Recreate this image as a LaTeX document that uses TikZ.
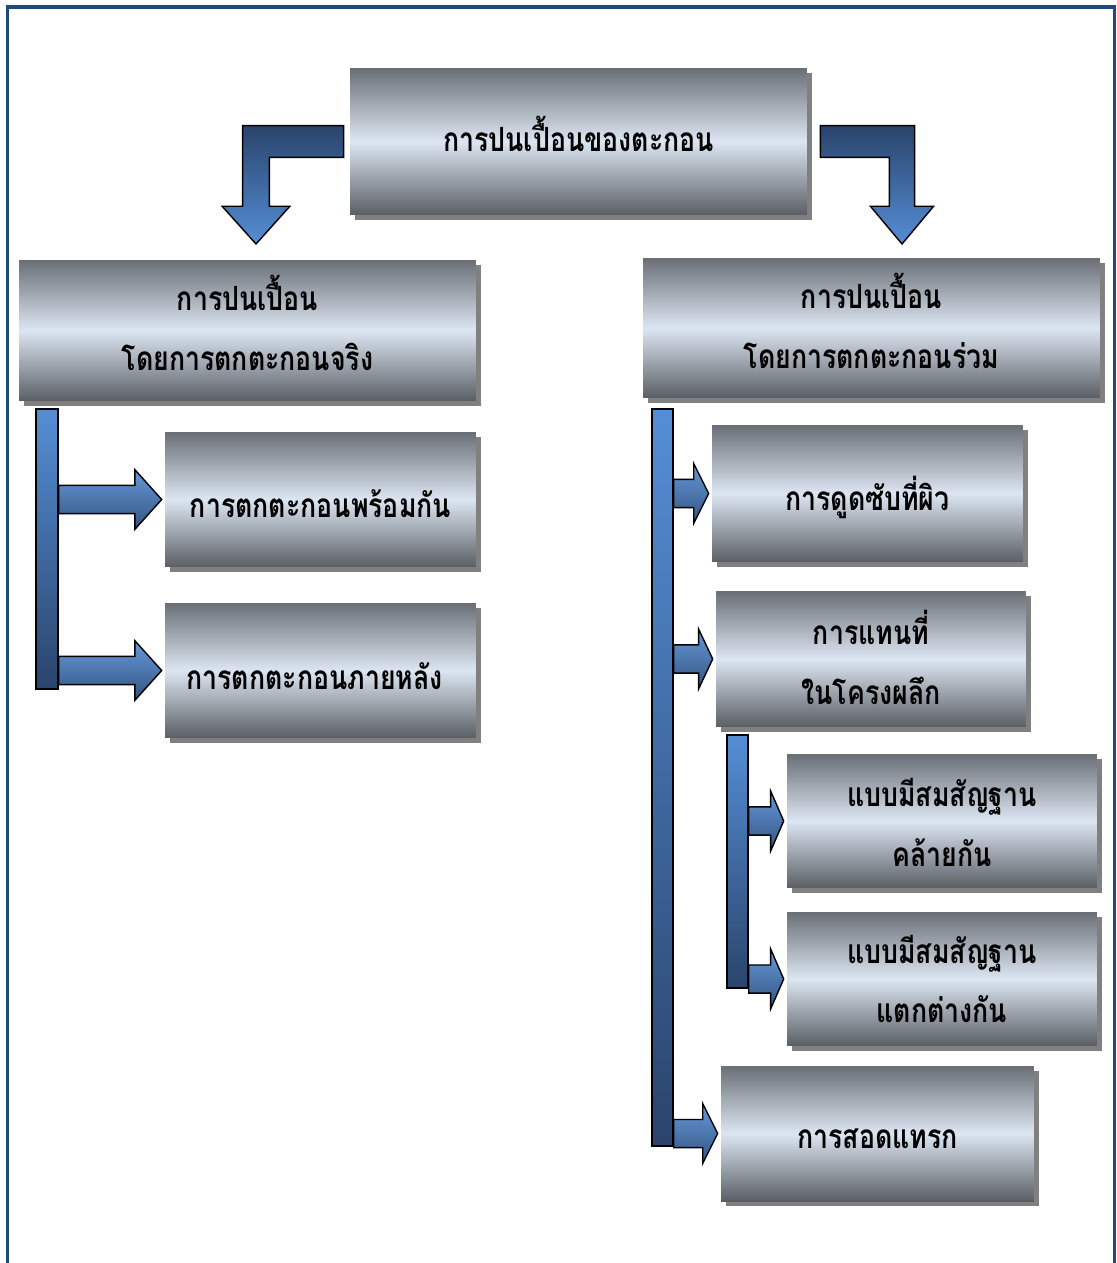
\documentclass[tikz,border=0pt]{standalone}
\usepackage{fontspec}
\newfontfamily\thaifont[Script=Thai,FakeStretch=0.8]{Loma}
\usepackage{tikz}
\usetikzlibrary{calc,shadows}
\definecolor{frameblue}{HTML}{1F497D}
\definecolor{barlight}{HTML}{558ED5}
\definecolor{bardark}{HTML}{2A446C}
\definecolor{panelgrey}{HTML}{6A6F76}
\definecolor{panellight}{HTML}{DCE6F2}
\definecolor{shadowgrey}{HTML}{808080}

\begin{document}
\begin{tikzpicture}[x=0.02cm, y=-0.02cm,
  panel/.style={rectangle, inner sep=0pt,
                top color=panelgrey, bottom color=panelgrey!85!black, middle color=panellight,
                drop shadow={shadow xshift=0.1cm, shadow yshift=-0.1cm, fill=shadowgrey, opacity=1}},
  paneltext/.style={align=center, text=black, inner sep=0pt,
                    font=\thaifont\bfseries\fontsize{19}{34}\selectfont},
  bar/.style={rectangle, inner sep=0pt, draw=black, line width=0.8pt,
              top color=barlight, bottom color=bardark},
  flowarrow/.style={draw=black, line width=0.8pt, line join=miter,
                    top color=barlight!90!white, bottom color=bardark!80!barlight},
  bentarrow/.style={draw=black, line width=0.8pt, line join=miter,
                    top color=bardark, bottom color=barlight}]
  \useasboundingbox (0,0) rectangle (1116,1263);
  \draw[frameblue, line width=0.07cm] (7.5,1263) -- (7.5,7) -- (1114.5,7) -- (1114.5,1263);

  % top level
  \node[panel, minimum width=9.14cm, minimum height=2.94cm,
        label={[paneltext, yshift=4.5pt]center:การปนเปื้อนของตะกอน}] (src) at (578.5,141.5) {};
  \node[panel, minimum width=9.14cm, minimum height=2.82cm,
        label={[paneltext, yshift=4.5pt]center:{การปนเปื้อน\\โดยการตกตะกอนจริง}}] (lreal) at (247.5,330.5) {};
  \node[panel, minimum width=9.14cm, minimum height=2.80cm,
        label={[paneltext, yshift=4pt]center:{การปนเปื้อน\\โดยการตกตะกอนร่วม}}] (rco) at (871.5,328) {};

  % left branch
  \node[panel, minimum width=6.22cm, minimum height=2.70cm,
        label={[paneltext, yshift=-2.3pt]center:การตกตะกอนพร้อมกัน}] (lsim) at (320.5,499.5) {};
  \node[panel, minimum width=6.22cm, minimum height=2.70cm,
        label={[paneltext, yshift=-3.4pt, xshift=-3.4pt]center:การตกตะกอนภายหลัง}] (llate) at (320.5,670.5) {};

  % right branch
  \node[panel, minimum width=6.22cm, minimum height=2.74cm,
        label={[paneltext, yshift=-2.3pt]center:การดูดซับที่ผิว}] (rads) at (867.5,493.5) {};
  \node[panel, minimum width=6.20cm, minimum height=2.72cm,
        label={[paneltext, yshift=1.1pt]center:{การแทนที่\\ในโครงผลึก}}] (rsub) at (871,659) {};
  \node[panel, minimum width=6.20cm, minimum height=2.68cm,
        label={[paneltext, yshift=-0.9pt]center:{แบบมีสมสัญฐาน\\คล้ายกัน}}] (rsame) at (942,821) {};
  \node[panel, minimum width=6.20cm, minimum height=2.68cm,
        label={[paneltext]center:{แบบมีสมสัญฐาน\\แตกต่างกัน}}] (rdiff) at (942,979) {};
  \node[panel, minimum width=6.26cm, minimum height=2.70cm,
        label={[paneltext, yshift=-2.8pt]center:การสอดแทรก}] (rint) at (877.5,1133.5) {};

  % bars
  \node[bar, minimum width=0.44cm, minimum height=5.60cm] (lbar) at (47,549) {};
  \node[bar, minimum width=0.42cm, minimum height=14.74cm] (rbar) at (662.5,777.5) {};
  \node[bar, minimum width=0.42cm, minimum height=5.06cm] (sbar) at (737.5,861.5) {};

  % bent arrows from the top box
  \coordinate (ltip) at (256,244);
  \coordinate (rtip) at (902,244);
  \draw[bentarrow] let \p1=($(src.west)+(-6,0)$), \p2=(ltip) in
    (\x1,\y1+9pt) -- (\x2-7.6pt,\y1+9pt) -- (\x2-7.6pt,\y2+21.5pt) -- (\x2-19.3pt,\y2+21.5pt)
    -- (\x2,\y2) -- (\x2+19.3pt,\y2+21.5pt) -- (\x2+7.6pt,\y2+21.5pt) -- (\x2+7.6pt,\y1-9pt)
    -- (\x1,\y1-9pt) -- cycle;
  \draw[bentarrow] let \p1=($(src.east)+(13,0)$), \p2=(rtip) in
    (\x1,\y1+9pt) -- (\x2+7.2pt,\y1+9pt) -- (\x2+7.2pt,\y2+21.5pt) -- (\x2+18pt,\y2+21.5pt)
    -- (\x2,\y2) -- (\x2-18pt,\y2+21.5pt) -- (\x2-7.2pt,\y2+21.5pt) -- (\x2-7.2pt,\y1-9pt)
    -- (\x1,\y1-9pt) -- cycle;

  % block arrows from the bars
  \foreach \b/\target/\h in {lbar/lsim/15.3pt, lbar/llate/15.3pt, rbar/rads/8.5pt, rbar/rsub/8pt,
                              sbar/rsame/7.4pt, sbar/rdiff/7.4pt, rbar/rint/8.5pt}
    \draw[flowarrow] let \p1=(\b.east |- \target.west), \p2=($(\target.west)+(-3,0)$) in
      (\x1,\y1+8pt) -- (\x2-\h,\y1+8pt) -- (\x2-\h,\y1+17pt) -- (\x2,\y1)
      -- (\x2-\h,\y1-17pt) -- (\x2-\h,\y1-8pt) -- (\x1,\y1-8pt) -- cycle;
\end{tikzpicture}
\end{document}
